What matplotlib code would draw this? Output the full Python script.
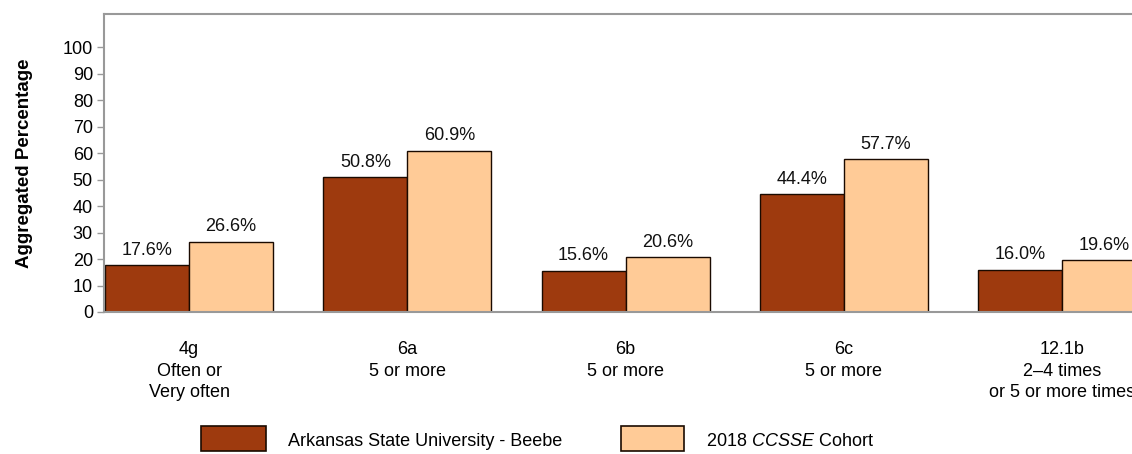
import matplotlib
matplotlib.use("Agg")
import matplotlib.pyplot as plt
from matplotlib.patches import Rectangle
import numpy as np

plt.rcParams['font.family'] = ['Liberation Sans', 'DejaVu Sans']
plt.rcParams['mathtext.fontset'] = 'custom'
plt.rcParams['mathtext.it'] = 'Liberation Sans:italic'
plt.rcParams['mathtext.rm'] = 'Liberation Sans'

categories = ["4g\nOften or\nVery often", "6a\n5 or more", "6b\n5 or more",
              "6c\n5 or more", "12.1b\n2\u20134 times\nor 5 or more times"]
college = [17.6, 50.8, 15.6, 44.4, 16.0]
cohort = [26.6, 60.9, 20.6, 57.7, 19.6]
series_names = ["Arkansas State University - Beebe", "2018 $\\it{CCSSE}$ Cohort"]
yticks = [0, 10, 20, 30, 40, 50, 60, 70, 80, 90, 100]

dark = "#9E3A0E"
light = "#FFCB97"
fs = 13

fig = plt.figure(figsize=(11.32, 4.54), dpi=100)
ax = fig.add_axes([104/1132, 1 - 312/454, 1 - 104/1132 + 0.02, (312-14)/454])

x = np.arange(len(categories))
w = 0.385
b1 = ax.bar(x - w/2, college, w, color=dark, edgecolor="#1a0a00", linewidth=1.0)
b2 = ax.bar(x + w/2, cohort, w, color=light, edgecolor="#1a0a00", linewidth=1.0)

for bars, vals in ((b1, college), (b2, cohort)):
    for r, v in zip(bars, vals):
        ax.text(r.get_x() + r.get_width()/2, v + 2.4, f"{v:.1f}%",
                ha="center", va="bottom", fontsize=fs, color="#111111")

ax.set_xlim(-0.39, 4.32 + 0.02*1132/218)
ax.set_ylim(0, 112.5)
ax.set_yticks(yticks)
ax.set_yticklabels([str(t) for t in yticks], fontsize=fs)
ax.set_xticks(x)
ax.set_xticklabels(categories, fontsize=fs, linespacing=1.35)
ax.tick_params(axis='x', length=0, pad=21)
ax.tick_params(axis='y', length=5, color="#999999", width=1, pad=3)

for s in ("left", "bottom", "top"):
    ax.spines[s].set_color("#999999")
    ax.spines[s].set_linewidth(1.5)
ax.spines["right"].set_visible(False)

ax.set_ylabel("Aggregated Percentage", fontsize=13.5, fontweight="bold")
ax.yaxis.set_label_coords(-0.0675, 0.5)

# Legend drawn at figure level
W, H = 1132, 454
def fig_rect(x0, y0, x1, y1, color):
    fig.patches.append(Rectangle((x0/W, 1 - y1/H), (x1-x0)/W, (y1-y0)/H,
                                 transform=fig.transFigure, facecolor=color,
                                 edgecolor="#1a0a00", linewidth=1.2))

fig_rect(201, 426, 266, 451, dark)
fig.text(288/W, 1 - 442/H, series_names[0], fontsize=fs, va="center", ha="left")
fig_rect(621, 426, 684, 451, light)
fig.text(706/W, 1 - 442/H, series_names[1], fontsize=fs, va="center", ha="left")

fig.savefig("out.png", dpi=100)
